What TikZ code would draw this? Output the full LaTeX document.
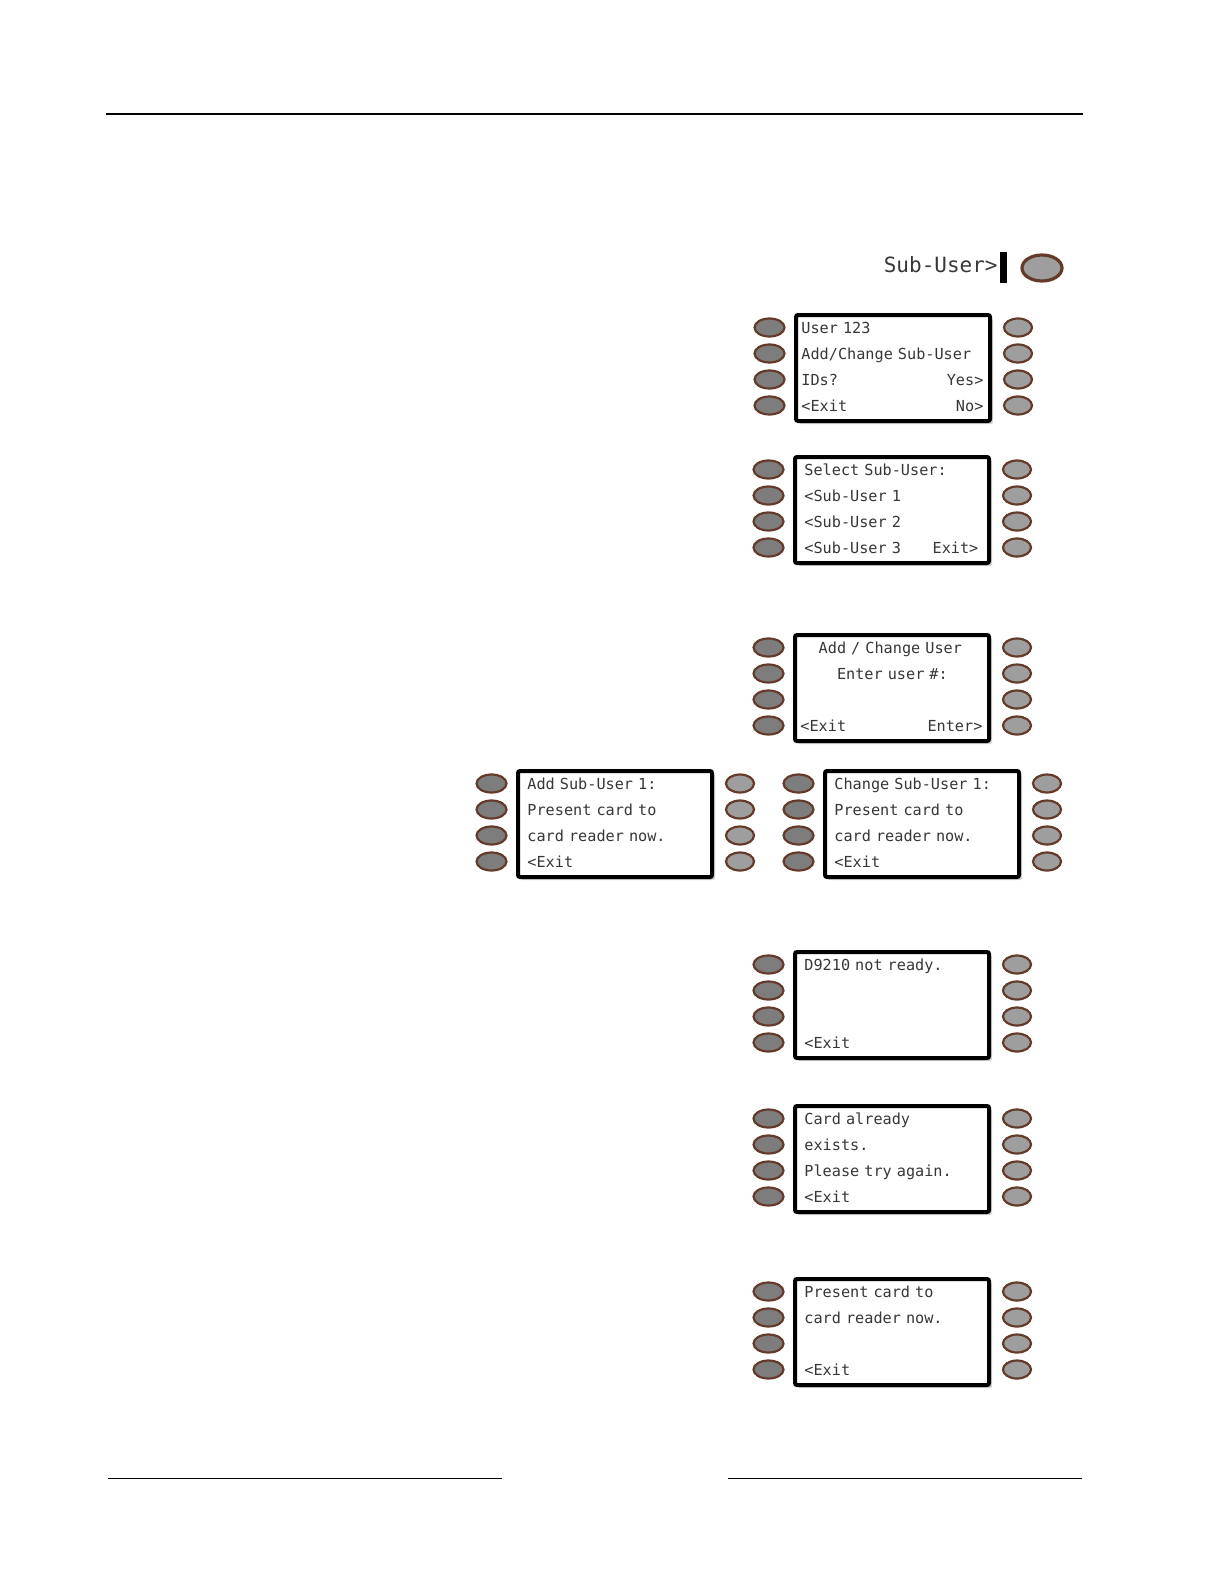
\documentclass[tikz,border=0pt]{standalone}
\usepackage{fontspec}
\newfontfamily\lcdfont{DejaVu Sans Mono}
\usetikzlibrary{positioning,calc,shapes.geometric,shadows}

\definecolor{btnrim}{RGB}{100,58,42}
\definecolor{btnleft}{RGB}{125,125,125}
\definecolor{btnright}{RGB}{158,158,158}
\definecolor{lcdink}{RGB}{55,55,55}

% keypad: #1 name, (#2,#3) top left corner, #4 text inset, #5-#8 lines
\newcommand{\lcdpanel}[8]{%
  \node[lcdbox] (#1) at (#2+98,#3+54) {};
  \foreach \k in {1,...,4} {
    \node[keyleft]  (#1-l\k) at ($(#1.north west)+(-24.5,{14.5+26*(\k-1)})$) {};
    \node[keyright] (#1-r\k) at ($(#1.north east)+(26,{14.5+26*(\k-1)})$) {};
  }
  \pgfmathsetmacro\lcdw{(196-2*#4)*0.5}
  \node[lcdline,text width=\lcdw pt] (#1-t1) at ($(#1.north west)+(#4,14.5)$) {#5};
  \node[lcdline,text width=\lcdw pt] (#1-t2) at ($(#1.north west)+(#4,40.5)$) {#6};
  \node[lcdline,text width=\lcdw pt] (#1-t3) at ($(#1.north west)+(#4,66.5)$) {#7};
  \node[lcdline,text width=\lcdw pt] (#1-t4) at ($(#1.north west)+(#4,92.5)$) {#8};
}

\begin{document}
\begin{tikzpicture}[x=0.5pt,y=-0.5pt,
    lcdbox/.style={draw=black,line width=2pt,rounded corners=1pt,fill=white,
      minimum width=97pt,minimum height=53pt,inner sep=0pt,
      drop shadow={shadow xshift=1.5pt,shadow yshift=-1.5pt,opacity=0.35}},
    lcdline/.style={anchor=west,inner sep=0pt,align=left,text=lcdink,
      font=\lcdfont\fontsize{7.6}{9}\selectfont,text height=5.5pt,text depth=0pt},
    keyleft/.style={ellipse,draw=btnrim,line width=1.1pt,fill=btnleft,
      minimum width=15pt,minimum height=9pt,inner sep=0pt},
    keyright/.style={keyleft,fill=btnright,minimum width=14pt}]
  \useasboundingbox (0,0) rectangle (1224,1584);

  % page rules
  \draw[line width=1pt] (106,114) -- (1083,114);
  \draw[line width=0.5pt] (108,1478) -- (502,1478);
  \draw[line width=0.5pt] (728,1478) -- (1082,1478);

  % Sub-User soft key
  \node[anchor=east,inner sep=0pt,text=lcdink,font=\lcdfont\fontsize{10.5}{12}\selectfont]
    (subkey) at (998,265) {Sub-User>};
  \fill[black] (1000,252) rectangle (1007,283);
  \node[ellipse,draw=btnrim,line width=1.6pt,fill=btnright,minimum width=20pt,
    minimum height=13pt,inner sep=0pt] (subbtn) at (1042,268) {};

  % screens
  \lcdpanel{ask}{795}{314}{7}{User 123}{Add/Change Sub-User}{IDs?\hfill Yes>}{<Exit\hfill No>}
  \lcdpanel{select}{794}{456}{11}{Select Sub-User:}{<Sub-User 1}{<Sub-User 2}{<Sub-User 3\hfill Exit>}
  \lcdpanel{enter}{794}{634}{7}{\phantom{xx}Add / Change User}{\phantom{xxxx}Enter user \#:}{}{<Exit\hfill Enter>}
  \lcdpanel{add}{517}{770}{11}{Add Sub-User 1:}{Present card to}{card reader now.}{<Exit}
  \lcdpanel{change}{824}{770}{11}{Change Sub-User 1:}{Present card to}{card reader now.}{<Exit}
  \lcdpanel{notready}{794}{951}{11}{D9210 not ready.}{}{}{<Exit}
  \lcdpanel{exists}{794}{1105}{11}{Card already}{exists.}{Please try again.}{<Exit}
  \lcdpanel{present}{794}{1278}{11}{Present card to}{card reader now.}{}{<Exit}
\end{tikzpicture}
\end{document}
